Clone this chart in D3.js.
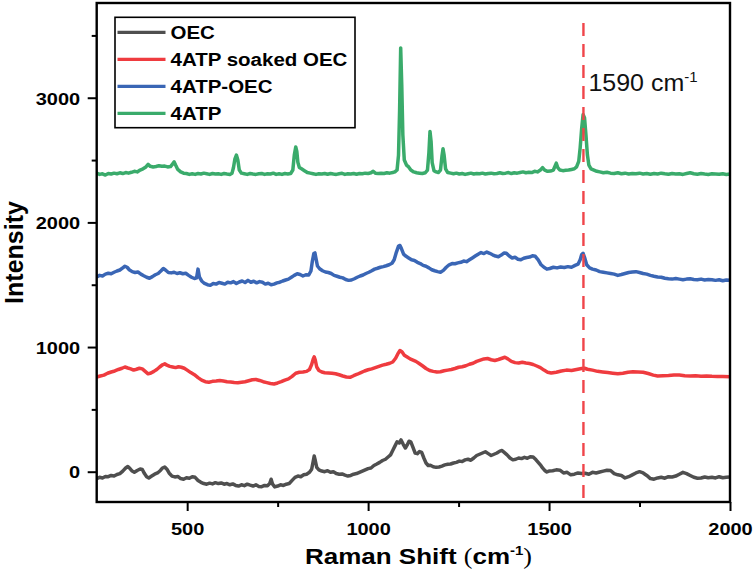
<!DOCTYPE html>
<html>
<head>
<meta charset="utf-8">
<script src="https://cdn.jsdelivr.net/npm/d3@7/dist/d3.min.js"></script>
<style>
  html, body { margin: 0; padding: 0; background: #fff; }
  svg { display: block; }
</style>
</head>
<body>
<div id="chart"></div>
<script>
// ---------------- DATA ----------------
const seriesNames = ["OEC", "4ATP soaked OEC", "4ATP-OEC", "4ATP"];

const oecShift = [250,258,266,274,282,290,298,306,314,322,330,336,342,348,354,362,370,376,382,388,394,402,410,418,426,432,438,444,450,458,466,474,482,490,498,506,514,522,530,538,546,554,562,570,578,586,594,602,610,618,626,634,642,650,658,666,674,682,690,698,706,714,722,728,732,736,742,750,758,766,774,782,790,798,806,814,822,830,838,844,848,851,854,858,864,872,880,888,896,904,912,920,928,936,944,952,960,968,976,984,992,1000,1008,1016,1024,1032,1040,1048,1056,1062,1068,1074,1080,1086,1091,1097,1103,1108,1113,1118,1124,1130,1136,1142,1148,1154,1160,1166,1172,1180,1188,1196,1204,1212,1220,1228,1236,1244,1252,1260,1268,1276,1284,1292,1300,1308,1316,1324,1332,1340,1348,1356,1364,1370,1376,1384,1392,1400,1408,1416,1424,1432,1440,1448,1456,1464,1470,1476,1482,1488,1494,1500,1510,1520,1530,1540,1550,1560,1570,1580,1590,1600,1610,1620,1630,1640,1650,1660,1670,1680,1690,1700,1710,1720,1730,1740,1750,1760,1770,1780,1790,1800,1810,1820,1830,1840,1850,1860,1870,1880,1890,1900,1910,1920,1930,1940,1950,1960,1970,1980,1990,2000];
const oecIntensity = [-55,-45,-50,-38,-40,-30,-35,-22,-15,5,30,42,25,5,-5,10,22,18,-15,-40,-50,-35,-20,-10,10,30,38,20,-10,-35,-42,-38,-55,-60,-48,-52,-40,-45,-70,-85,-95,-100,-92,-98,-88,-95,-90,-100,-95,-105,-98,-110,-115,-105,-112,-100,-108,-115,-105,-118,-120,-110,-112,-95,-60,-100,-122,-115,-105,-110,-100,-95,-70,-45,-35,-40,-25,-20,-5,20,80,126,90,35,15,5,0,8,-5,0,-15,-20,-18,-28,-35,-30,-20,-15,-5,5,15,25,30,50,62,75,90,100,120,135,170,205,240,230,255,220,190,215,245,240,195,150,145,162,155,110,70,50,52,40,35,38,45,55,60,62,70,75,85,82,95,100,92,110,130,140,150,160,145,130,140,150,165,170,155,135,110,95,100,110,105,115,108,120,118,95,75,55,30,10,-2,5,8,15,12,-10,-5,-25,-20,-10,-15,-12,-20,-5,-10,-2,5,12,10,-15,-25,-30,-50,-40,-25,-10,0,-10,-30,-55,-60,-50,-45,-52,-40,-42,-35,-20,-5,-15,-30,-45,-52,-50,-42,-48,-45,-50,-40,-48,-45,-42];

const soakedShift = [250,260,270,280,290,300,310,320,328,336,344,352,360,368,376,384,392,400,408,416,424,432,438,444,452,460,468,476,484,492,500,510,520,530,540,550,560,570,580,590,600,610,620,630,640,650,660,670,680,690,700,710,720,730,740,750,760,770,780,790,800,810,820,830,838,844,848,851,854,858,864,872,880,890,900,910,920,930,940,950,960,970,980,990,1000,1010,1020,1030,1040,1050,1060,1068,1076,1082,1088,1094,1100,1108,1116,1124,1132,1140,1150,1160,1170,1180,1190,1200,1210,1220,1230,1240,1250,1260,1270,1280,1290,1300,1310,1320,1330,1340,1350,1360,1370,1378,1386,1396,1406,1416,1426,1436,1446,1456,1466,1476,1486,1496,1506,1520,1534,1548,1562,1576,1590,1598,1606,1620,1634,1648,1662,1676,1690,1704,1718,1732,1746,1760,1774,1788,1800,1815,1830,1845,1860,1875,1890,1905,1920,1935,1950,1965,1980,2000];
const soakedIntensity = [760,768,775,790,800,808,820,830,840,832,825,815,822,830,825,805,785,792,805,820,840,858,865,855,845,840,835,842,838,830,815,795,778,755,735,722,718,725,728,732,728,722,720,716,714,718,722,730,738,740,732,722,715,708,704,712,722,735,745,765,790,798,800,805,820,860,900,922,895,840,812,800,794,792,790,786,778,768,760,757,770,782,795,808,818,825,835,845,855,862,870,880,910,945,972,960,935,920,905,895,885,870,850,828,812,805,800,802,810,815,820,828,838,842,850,862,870,885,895,905,908,898,892,900,910,918,905,885,875,872,878,872,868,860,848,835,815,798,792,798,808,815,812,820,828,830,822,815,805,800,795,790,785,790,798,802,800,798,788,775,768,770,772,775,775,770,768,770,766,768,765,764,763,762];

const atpOecShift = [250,258,266,274,282,290,298,306,314,322,328,334,340,348,356,364,372,380,388,396,404,412,420,428,434,440,448,456,464,472,480,488,496,504,512,520,526,530,534,540,548,556,564,572,580,588,596,604,612,620,628,636,644,652,660,668,676,684,692,700,708,716,724,732,740,748,756,764,772,780,788,796,804,812,820,828,836,842,846,850,853,856,860,866,874,882,890,898,906,914,922,930,938,946,954,962,970,978,986,994,1002,1010,1018,1026,1034,1042,1050,1058,1066,1072,1078,1084,1088,1092,1098,1104,1112,1120,1128,1136,1144,1152,1160,1168,1176,1184,1192,1200,1208,1216,1224,1232,1240,1248,1256,1264,1272,1280,1288,1296,1304,1312,1320,1328,1336,1344,1352,1360,1368,1376,1382,1390,1398,1406,1414,1422,1430,1438,1446,1454,1462,1470,1478,1486,1494,1502,1512,1522,1532,1542,1552,1562,1572,1580,1586,1590,1594,1598,1604,1612,1620,1630,1640,1650,1660,1670,1680,1690,1700,1710,1720,1730,1740,1750,1760,1770,1780,1790,1800,1810,1820,1830,1840,1850,1860,1870,1880,1890,1900,1910,1920,1930,1940,1950,1960,1970,1980,1990,2000];
const atpOecIntensity = [1562,1575,1570,1585,1592,1588,1600,1610,1618,1635,1648,1640,1620,1605,1598,1602,1585,1572,1560,1552,1565,1580,1590,1612,1630,1618,1598,1595,1600,1590,1596,1588,1592,1575,1560,1550,1555,1625,1560,1530,1510,1500,1495,1510,1505,1518,1512,1505,1520,1515,1525,1510,1522,1530,1518,1535,1520,1528,1515,1525,1520,1505,1512,1500,1505,1515,1520,1530,1538,1545,1560,1575,1588,1582,1570,1580,1578,1610,1690,1750,1755,1710,1650,1628,1612,1602,1598,1590,1575,1568,1560,1555,1542,1535,1538,1548,1560,1570,1578,1590,1600,1612,1625,1632,1640,1645,1652,1660,1672,1700,1760,1810,1815,1790,1745,1730,1715,1700,1695,1680,1670,1655,1648,1635,1620,1612,1605,1600,1615,1640,1660,1670,1668,1675,1680,1690,1685,1700,1715,1730,1745,1758,1750,1762,1752,1740,1730,1725,1738,1755,1752,1730,1715,1720,1705,1700,1712,1718,1722,1732,1728,1700,1660,1640,1625,1630,1640,1635,1642,1638,1645,1640,1655,1665,1700,1740,1752,1720,1660,1635,1625,1618,1605,1600,1595,1590,1585,1575,1582,1590,1598,1602,1605,1598,1590,1585,1575,1568,1562,1560,1552,1548,1545,1550,1545,1540,1545,1548,1542,1540,1545,1538,1542,1540,1535,1540,1532,1538,1536];

const atpShift = [250,258,266,274,282,290,298,306,314,322,330,338,346,354,362,370,378,386,392,398,406,414,422,430,438,446,454,460,464,468,474,482,490,498,506,514,522,530,538,546,554,562,570,578,586,594,602,610,618,624,628,632,636,640,644,650,658,666,674,682,690,698,706,714,722,730,738,746,754,762,770,778,786,792,796,800,803,806,810,816,824,832,840,848,856,864,872,880,888,896,904,912,920,928,936,944,952,960,968,976,984,992,1000,1008,1014,1020,1028,1036,1044,1052,1060,1068,1074,1080,1084,1087,1090,1093,1096,1100,1106,1112,1118,1126,1134,1142,1150,1158,1164,1168,1171,1174,1177,1182,1188,1194,1200,1204,1207,1210,1214,1220,1228,1236,1244,1252,1260,1268,1276,1284,1292,1300,1308,1316,1324,1332,1340,1348,1356,1364,1372,1380,1388,1396,1404,1412,1420,1428,1436,1444,1452,1460,1468,1476,1482,1488,1496,1504,1512,1520,1524,1530,1538,1546,1554,1562,1570,1576,1582,1586,1590,1594,1598,1602,1606,1610,1616,1624,1632,1640,1650,1660,1670,1680,1690,1700,1710,1720,1730,1740,1750,1760,1770,1780,1790,1800,1810,1820,1830,1840,1850,1860,1870,1880,1890,1900,1910,1920,1930,1940,1950,1960,1970,1980,1990,2000];
const atpIntensity = [2395,2385,2390,2380,2392,2388,2395,2390,2398,2392,2400,2395,2402,2410,2405,2420,2430,2445,2465,2450,2445,2448,2455,2450,2452,2445,2448,2470,2485,2460,2425,2405,2395,2392,2385,2390,2385,2392,2388,2395,2390,2385,2392,2388,2390,2385,2392,2388,2385,2395,2440,2510,2540,2500,2420,2395,2390,2385,2392,2388,2385,2390,2392,2385,2390,2388,2395,2385,2390,2385,2392,2388,2392,2420,2540,2605,2570,2480,2440,2430,2415,2400,2395,2390,2385,2390,2388,2392,2386,2392,2388,2385,2390,2394,2385,2390,2388,2392,2386,2392,2390,2395,2392,2398,2410,2395,2392,2395,2392,2398,2395,2400,2405,2420,2540,2900,3400,3100,2700,2500,2460,2445,2420,2405,2398,2395,2392,2398,2420,2560,2730,2650,2480,2415,2405,2400,2420,2530,2590,2540,2430,2400,2395,2390,2395,2388,2392,2385,2390,2395,2388,2392,2390,2395,2388,2392,2395,2390,2392,2398,2392,2395,2400,2392,2398,2395,2400,2405,2398,2402,2400,2410,2405,2420,2440,2420,2410,2412,2420,2475,2440,2420,2415,2418,2420,2425,2430,2445,2490,2600,2750,2865,2840,2700,2540,2460,2430,2420,2410,2405,2398,2402,2395,2392,2398,2390,2395,2388,2392,2390,2395,2388,2392,2386,2392,2388,2395,2390,2386,2392,2388,2390,2385,2392,2398,2390,2386,2392,2388,2385,2390,2388,2386,2390,2385,2388];

const xTicks = [500, 1000, 1500, 2000];
const xMinorTicks = [750, 1250, 1750];
const yTicks = [0, 1000, 2000, 3000];
const yMinorTicks = [500, 1500, 2500, 3500];
const markerShift = 1595;
const markerLabel = "1590 cm";
const markerSup = "-1";

// ---------------- LAYOUT ----------------
const W = 755, H = 573;
const pLeft = 96.7, pRight = 730, pTop = 3, pBottom = 502;
const colors = ["#4f4f4f", "#ef3b3f", "#3a66b5", "#3aab6b"];
const FONT = "'Liberation Sans', Arial, Helvetica, sans-serif";

const svg = d3.select("#chart").append("svg")
  .attr("width", W).attr("height", H)
  .style("font-family", FONT);

const x = d3.scaleLinear().domain([250, 2000]).range([pLeft, pRight]);
const y = d3.scaleLinear().domain([-243, 3760]).range([pBottom, pTop]);

svg.append("defs").append("clipPath").attr("id", "clip")
  .append("rect").attr("x", pLeft).attr("y", pTop)
  .attr("width", pRight - pLeft).attr("height", pBottom - pTop);

// Series
const series = [
  {name: seriesNames[0], xs: oecShift, ys: oecIntensity, color: colors[0]},
  {name: seriesNames[1], xs: soakedShift, ys: soakedIntensity, color: colors[1]},
  {name: seriesNames[2], xs: atpOecShift, ys: atpOecIntensity, color: colors[2]},
  {name: seriesNames[3], xs: atpShift, ys: atpIntensity, color: colors[3]}
];

const line = d3.line().x(d => x(d[0])).y(d => y(d[1])).curve(d3.curveLinear);
const plot = svg.append("g").attr("clip-path", "url(#clip)");
series.forEach(s => {
  const pts = s.xs.map((v, i) => [v, s.ys[i]]);
  plot.append("path").datum(pts)
    .attr("d", line)
    .attr("fill", "none")
    .attr("stroke", s.color)
    .attr("stroke-width", 3.5)
    .attr("stroke-linejoin", "round")
    .attr("stroke-linecap", "round");
});

// dashed marker line
svg.append("line")
  .attr("x1", x(markerShift)).attr("x2", x(markerShift))
  .attr("y1", y(3600)).attr("y2", pBottom)
  .attr("stroke", "#f0454a").attr("stroke-width", 2.4)
  .attr("stroke-dasharray", "13,8");

// annotation
const ann = svg.append("text")
  .attr("transform", `translate(${x(markerShift) + 5},91) scale(1,0.93)`)
  .attr("font-size", 25).attr("fill", "#111");
ann.append("tspan").text(markerLabel);
ann.append("tspan").attr("font-size", 15).attr("dy", -10).text(markerSup);

// Axes
const sY = 0.87;
const xAxis = d3.axisBottom(x).tickValues(xTicks).tickSize(9).tickSizeOuter(0).tickFormat(d3.format("d"));
const gx = svg.append("g").attr("transform", `translate(0,${pBottom})`).call(xAxis);
gx.selectAll("text")
  .attr("y", 0).attr("dy", 0)
  .attr("transform", `translate(0,33) scale(1,${sY})`)
  .attr("font-size", 20).attr("font-weight", "bold").attr("fill", "#000")
  .attr("font-family", FONT);
const gxm = svg.append("g").attr("transform", `translate(0,${pBottom})`)
  .call(d3.axisBottom(x).tickValues(xMinorTicks).tickSize(5).tickSizeOuter(0).tickFormat(""));

const yAxis = d3.axisLeft(y).tickValues(yTicks).tickSize(9).tickSizeOuter(0).tickFormat(d3.format("d"));
const gy = svg.append("g").attr("transform", `translate(${pLeft},0)`).call(yAxis);
gy.selectAll("text")
  .attr("x", 0).attr("dy", 0)
  .attr("transform", `translate(-16.5,0) scale(1,${sY}) translate(0,7.2)`)
  .attr("font-size", 20).attr("font-weight", "bold").attr("fill", "#000")
  .attr("font-family", FONT);
const gym = svg.append("g").attr("transform", `translate(${pLeft},0)`)
  .call(d3.axisLeft(y).tickValues(yMinorTicks).tickSize(5).tickSizeOuter(0).tickFormat(""));

[gx, gxm, gy, gym].forEach(g => {
  g.selectAll("line").attr("stroke", "#000").attr("stroke-width", 2);
  g.select(".domain").remove();
});

// frame
svg.append("rect")
  .attr("x", pLeft).attr("y", pTop)
  .attr("width", pRight - pLeft).attr("height", pBottom - pTop)
  .attr("fill", "none").attr("stroke", "#000").attr("stroke-width", 2.4);

// axis titles
const xt = svg.append("text")
  .attr("transform", `translate(305,564) scale(1,0.85)`)
  .attr("font-size", 26).attr("font-weight", "bold").attr("fill", "#000");
xt.append("tspan").text("Raman Shift ");
xt.append("tspan").attr("font-family", "'Liberation Serif', 'Times New Roman', serif")
  .attr("font-weight", "normal").text("(");
xt.append("tspan").text("cm");
xt.append("tspan").attr("font-size", 15).attr("dy", -11).text("-1");
xt.append("tspan").attr("dy", 11).attr("font-family", "'Liberation Serif', 'Times New Roman', serif")
  .attr("font-weight", "normal").text(")");

svg.append("text")
  .attr("transform", `translate(23,${(pTop + pBottom) / 2}) rotate(-90)`)
  .attr("text-anchor", "middle")
  .attr("font-size", 25).attr("font-weight", "bold").attr("fill", "#000")
  .text("Intensity");

// legend
const lg = svg.append("g");
lg.append("rect")
  .attr("x", 115).attr("y", 17.3).attr("width", 240).attr("height", 110.4)
  .attr("fill", "#fff").attr("stroke", "#000").attr("stroke-width", 1.6);
series.forEach((s, i) => {
  const cy = 32.4 + i * 27;
  lg.append("line")
    .attr("x1", 117.5).attr("x2", 165.5).attr("y1", cy).attr("y2", cy)
    .attr("stroke", s.color).attr("stroke-width", 3.2);
  lg.append("text")
    .attr("transform", `translate(170.5,${cy + 6.2}) scale(1,0.85)`)
    .attr("font-size", 20.5).attr("font-weight", "bold").attr("fill", "#000")
    .text(s.name);
});
</script>
</body>
</html>
